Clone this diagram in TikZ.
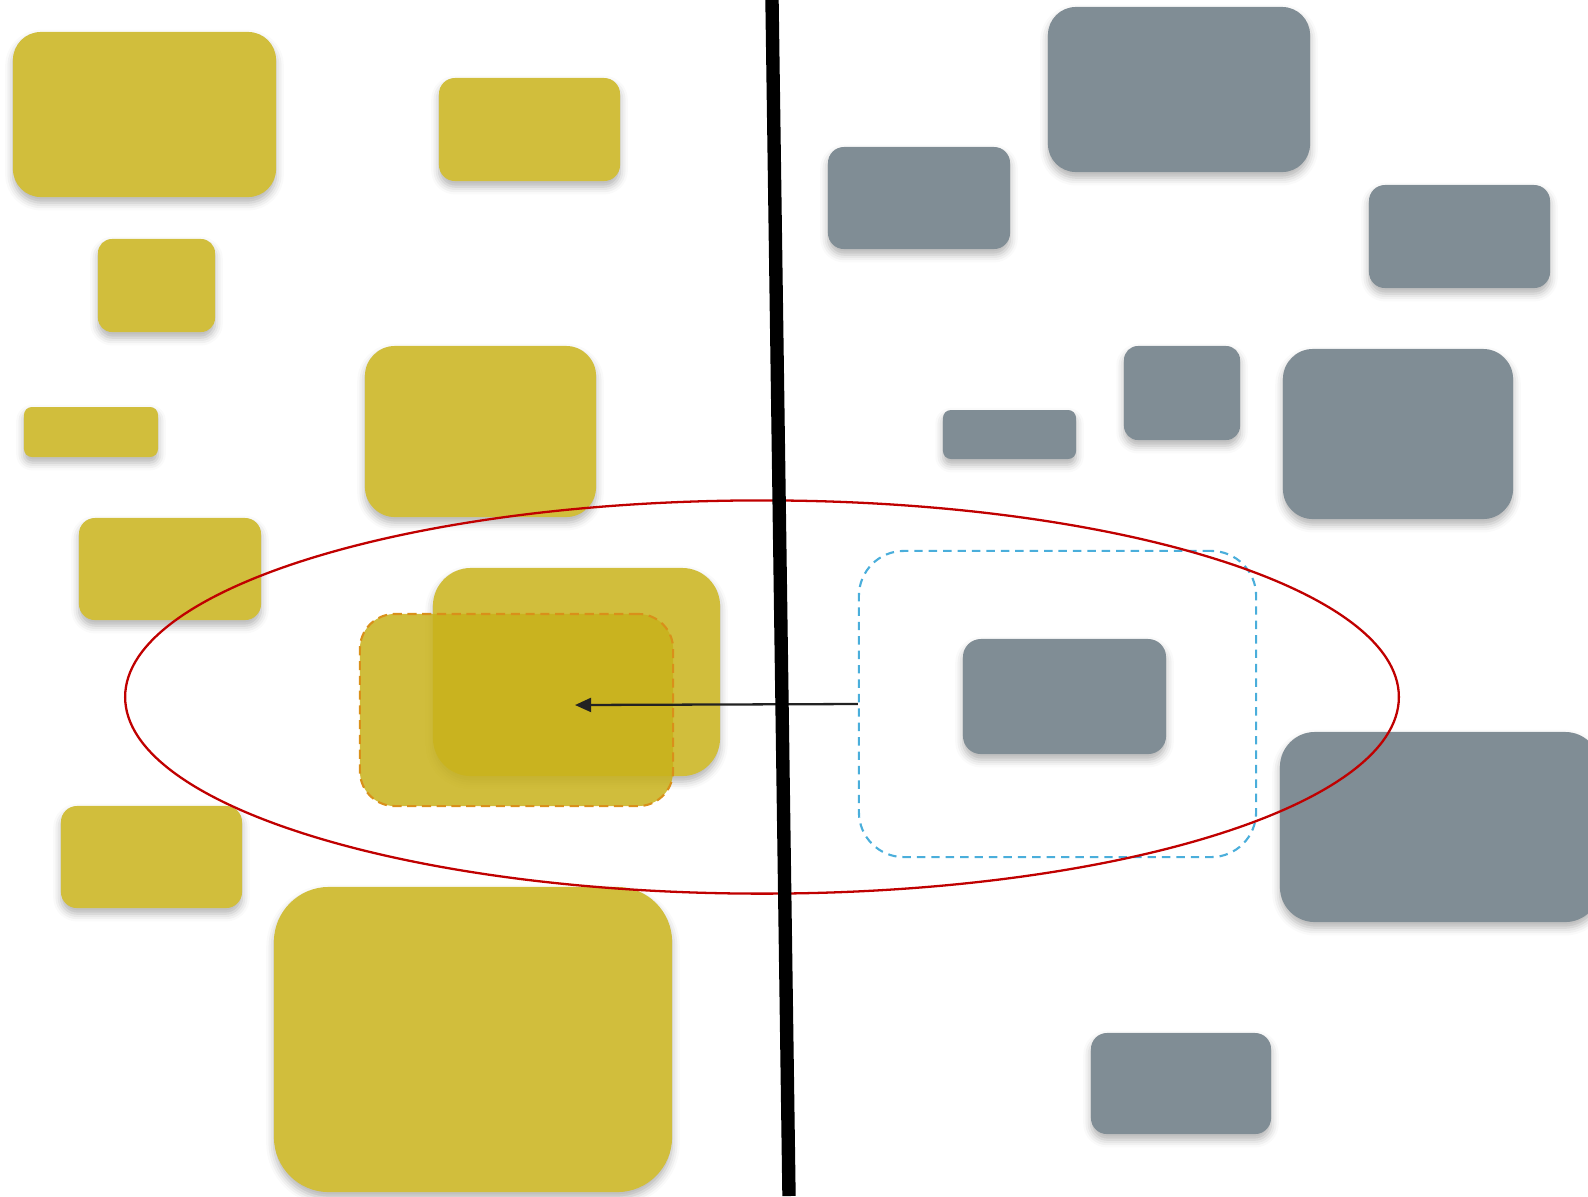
\documentclass[tikz,border=0pt]{standalone}
\usepackage{tikz}
\usetikzlibrary{arrows.meta,shapes.geometric,shadows.blur}
\definecolor{mustard}{HTML}{D1BE3C}
\definecolor{deepMustard}{HTML}{C8B21A}
\definecolor{slate}{HTML}{808D95}
\definecolor{amberEdge}{HTML}{D9901A}
\definecolor{skyEdge}{HTML}{4AAEDB}
\definecolor{scopeRed}{HTML}{C00000}
\definecolor{ink}{HTML}{222222}
\tikzset{
  tile/.style={rectangle, inner sep=0pt,
               blur shadow={shadow xshift=0pt, shadow yshift=-1.6pt,
                            shadow blur radius=2.2pt, shadow opacity=30}},
  yellowbox/.style={tile, fill=mustard},
  graybox/.style={tile, fill=slate},
  pickbox/.style={rectangle, inner sep=0pt, fill=deepMustard, fill opacity=0.85,
                  draw=amberEdge, line width=0.6pt, dash pattern=on 2.6pt off 1.6pt},
  groupbox/.style={rectangle, inner sep=0pt, draw=skyEdge, line width=0.6pt,
                   dash pattern=on 2.4pt off 1.7pt},
  scope/.style={ellipse, inner sep=0pt, draw=scopeRed, line width=0.65pt},
  pointer/.style={-{Triangle[length=4.6pt,width=4pt]}, draw=ink, line width=0.65pt},
  divider/.style={line width=3.8pt, draw=black}
}
\begin{document}
\begin{tikzpicture}[x=0.01cm, y=-0.01cm]
\useasboundingbox (0,0) rectangle (1588,1196);
% left side
\node[yellowbox, rounded corners=0.28cm, minimum width=2.63cm, minimum height=1.65cm] (ybig) at (144.5,114.5) {};
\node[yellowbox, rounded corners=0.16cm, minimum width=1.81cm, minimum height=1.03cm] (ytop) at (529.5,129.5) {};
\node[yellowbox, rounded corners=0.14cm, minimum width=1.17cm, minimum height=0.93cm] (ysmall) at (156.5,285.5) {};
\node[yellowbox, rounded corners=0.08cm, minimum width=1.34cm, minimum height=0.50cm] (ythin) at (91,432) {};
\node[yellowbox, rounded corners=0.30cm, minimum width=2.31cm, minimum height=1.71cm] (ymid) at (480.5,431.5) {};
\node[yellowbox, rounded corners=0.16cm, minimum width=1.82cm, minimum height=1.02cm] (yleft) at (170,569) {};
\node[yellowbox, rounded corners=0.38cm, minimum width=2.87cm, minimum height=2.08cm] (ymatch) at (576.5,672) {};
\node[pickbox, rounded corners=0.35cm, minimum width=3.13cm, minimum height=1.92cm] (ypick) at (516.5,710) {};
\node[yellowbox, rounded corners=0.16cm, minimum width=1.81cm, minimum height=1.02cm] (ylow) at (151.5,857) {};
\node[yellowbox, rounded corners=0.55cm, minimum width=3.98cm, minimum height=3.05cm] (yhuge) at (473,1039.5) {};
% right side
\node[graybox, rounded corners=0.28cm, minimum width=2.62cm, minimum height=1.65cm] (gbig) at (1179,89.5) {};
\node[graybox, rounded corners=0.16cm, minimum width=1.82cm, minimum height=1.02cm] (gleft) at (919,198) {};
\node[graybox, rounded corners=0.16cm, minimum width=1.81cm, minimum height=1.03cm] (gright) at (1459.5,236.5) {};
\node[graybox, rounded corners=0.14cm, minimum width=1.16cm, minimum height=0.94cm] (gsmall) at (1182,393) {};
\node[graybox, rounded corners=0.08cm, minimum width=1.33cm, minimum height=0.49cm] (gthin) at (1009.5,434.5) {};
\node[graybox, rounded corners=0.30cm, minimum width=2.30cm, minimum height=1.70cm] (gmid) at (1398,434) {};
\node[graybox, rounded corners=0.18cm, minimum width=2.03cm, minimum height=1.15cm] (gsource) at (1064.5,696.5) {};
\node[graybox, rounded corners=0.35cm, minimum width=3.20cm, minimum height=1.90cm] (gedge) at (1440,827) {};
\node[graybox, rounded corners=0.16cm, minimum width=1.80cm, minimum height=1.01cm] (glow) at (1181,1083.5) {};
\node[groupbox, rounded corners=0.45cm, minimum width=3.97cm, minimum height=3.06cm] (ggroup) at (1057.5,704) {};
% scope and link
\node[scope, minimum width=12.73cm, minimum height=3.93cm] (reach) at (762,697) {};
\coordinate (target) at (575,705);
\draw[pointer] (ggroup.west) -- (target);
\coordinate (divtop) at (772,0);
\coordinate (divbot) at (789,1196);
\draw[divider] (divtop) -- (divbot);
\end{tikzpicture}
\end{document}
